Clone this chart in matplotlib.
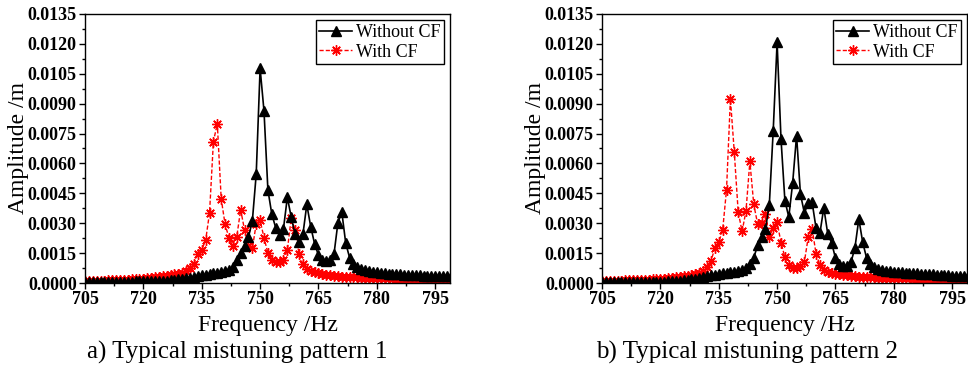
import numpy as np
import matplotlib
matplotlib.use('Agg')
from matplotlib import pyplot as plt
from matplotlib.ticker import MultipleLocator, FormatStrFormatter

plt.rcParams['font.family'] = ['Liberation Serif', 'DejaVu Serif']

# frequency grid (Hz), 1 Hz step
freq = np.arange(705, 800)

# pattern 1
amp1_without = [
    0.00004, 0.00004, 0.00004, 0.00005, 0.00005, 0.00005, 0.00005, 0.00006, 0.00006, 0.00006,
    0.00007, 0.00007, 0.00007, 0.00008, 0.00008, 0.00008, 0.00009, 0.00009, 0.0001, 0.0001,
    0.00011, 0.00012, 0.00014, 0.00016, 0.00018, 0.0002, 0.00023, 0.00026, 0.0003, 0.00034,
    0.00038, 0.00042, 0.00045, 0.00048, 0.0005, 0.00053, 0.00058, 0.00066, 0.00082, 0.00115,
    0.0015, 0.00185, 0.0023, 0.0031, 0.00546, 0.01077, 0.00863, 0.00468, 0.00346, 0.00278,
    0.0024, 0.00272, 0.0043, 0.0033, 0.00244, 0.00205, 0.00244, 0.00394, 0.00283, 0.00197,
    0.00139, 0.00117, 0.0011, 0.00113, 0.00147, 0.00303, 0.00356, 0.002, 0.00127, 0.00097,
    0.00078, 0.00068, 0.00063, 0.00059, 0.00056, 0.00053, 0.00051, 0.00049, 0.00047, 0.00046,
    0.00044, 0.00043, 0.00042, 0.00041, 0.0004, 0.00039, 0.00038, 0.00037, 0.00037, 0.00036,
    0.00035, 0.00035, 0.00034, 0.00034, 0.00033]
amp1_with = [
    0.0001, 0.0001, 0.00011, 0.00011, 0.00012, 0.00012, 0.00013, 0.00014, 0.00014, 0.00015,
    0.00016, 0.00017, 0.00018, 0.00019, 0.0002, 0.00022, 0.00024, 0.00026, 0.00028, 0.00031,
    0.00034, 0.00037, 0.0004, 0.00043, 0.00047, 0.00052, 0.0006, 0.00073, 0.00097, 0.00145,
    0.00167, 0.00214, 0.00351, 0.0071, 0.008, 0.00423, 0.00294, 0.00227, 0.00184, 0.00232,
    0.00368, 0.00266, 0.00187, 0.00174, 0.00296, 0.00314, 0.00228, 0.0015, 0.00117, 0.00105,
    0.00105, 0.00117, 0.00165, 0.00326, 0.00265, 0.00146, 0.00094, 0.00072, 0.0006, 0.00053,
    0.00048, 0.00044, 0.00041, 0.00038, 0.00036, 0.00034, 0.00032, 0.00031, 0.0003, 0.00029,
    0.00028, 0.00027, 0.00026, 0.00025, 0.00025, 0.00024, 0.00024, 0.00023, 0.00023, 0.00022,
    0.00022, 0.00021, 0.00021, 0.00021, 0.0002, 0.0002, 0.0002, 0.00019, 0.00019, 0.00019,
    0.00018, 0.00018, 0.00018, 0.00018, 0.00017]

# pattern 2
amp2_without = [
    0.00003, 0.00003, 0.00003, 0.00003, 0.00004, 0.00004, 0.00004, 0.00004, 0.00005, 0.00005,
    0.00005, 0.00005, 0.00006, 0.00006, 0.00006, 0.00007, 0.00007, 0.00008, 0.00009, 0.0001,
    0.00012, 0.00014, 0.00016, 0.00019, 0.00022, 0.00026, 0.0003, 0.00034, 0.00038, 0.00042,
    0.00046, 0.00049, 0.00051, 0.00053, 0.00056, 0.0006, 0.00066, 0.00075, 0.00097, 0.00127,
    0.00189, 0.0023, 0.0027, 0.00393, 0.00765, 0.01208, 0.00723, 0.00414, 0.00331, 0.00503,
    0.0074, 0.00446, 0.00352, 0.004, 0.00405, 0.00276, 0.0025, 0.00378, 0.00248, 0.00202,
    0.00125, 0.00097, 0.00085, 0.00085, 0.00105, 0.00177, 0.00321, 0.00204, 0.00125, 0.00097,
    0.0008, 0.00072, 0.00066, 0.00062, 0.00059, 0.00057, 0.00055, 0.00053, 0.00051, 0.0005,
    0.00049, 0.00048, 0.00046, 0.00045, 0.00044, 0.00043, 0.00042, 0.0004, 0.00039, 0.00038,
    0.00037, 0.00036, 0.00035, 0.00034, 0.00033]
amp2_with = [
    0.0001, 0.0001, 0.00011, 0.00011, 0.00012, 0.00012, 0.00013, 0.00013, 0.00014, 0.00015,
    0.00015, 0.00016, 0.00017, 0.00018, 0.00019, 0.0002, 0.00022, 0.00024, 0.00026, 0.00028,
    0.0003, 0.00033, 0.00036, 0.0004, 0.00044, 0.0005, 0.0006, 0.0008, 0.0011, 0.00175,
    0.00205, 0.00264, 0.00468, 0.00924, 0.00656, 0.00356, 0.00259, 0.00361, 0.0061, 0.00394,
    0.00296, 0.003, 0.00348, 0.0023, 0.00278, 0.00306, 0.00202, 0.0013, 0.00089, 0.00077,
    0.00077, 0.00084, 0.00105, 0.0023, 0.00273, 0.00147, 0.00089, 0.00064, 0.00055, 0.0005,
    0.00046, 0.00043, 0.0004, 0.00038, 0.00036, 0.00034, 0.00032, 0.00031, 0.0003, 0.00029,
    0.00028, 0.00027, 0.00026, 0.00026, 0.00025, 0.00025, 0.00024, 0.00024, 0.00023, 0.00023,
    0.00022, 0.00022, 0.00021, 0.00021, 0.00021, 0.0002, 0.0002, 0.0002, 0.00019, 0.00019,
    0.00019, 0.00018, 0.00018, 0.00018, 0.00018]

series_labels = ['Without CF', 'With CF']
captions = ['a) Typical mistuning pattern 1', 'b) Typical mistuning pattern 2']

W, H = 968, 367
fig = plt.figure(figsize=(W / 100, H / 100), dpi=100)

# axes boxes in pixels: left, right, top, bottom
boxes = [(85, 450, 14, 283), (602, 967, 14, 283)]
caption_x = [237, 747]
data = [(amp1_without, amp1_with), (amp2_without, amp2_with)]

for (l, r, t, b), (a_wo, a_w), cap, cx in zip(boxes, data, captions, caption_x):
    ax = fig.add_axes([l / W, 1 - b / H, (r - l) / W, (b - t) / H])
    ax.plot(freq, a_wo, color='black', lw=1.2, marker='^', ms=7,
            label=series_labels[0], zorder=3)
    ax.plot(freq, a_w, color='red', lw=1.0, ls='--', dashes=(3, 1.5),
            marker=(8, 2, 0), ms=7.5, mew=1.0, label=series_labels[1], zorder=2)
    ax.set_xlim(705, 798.8)
    ax.set_ylim(0, 0.0135)
    ax.xaxis.set_major_locator(MultipleLocator(15))
    ax.xaxis.set_minor_locator(MultipleLocator(7.5))
    ax.yaxis.set_major_locator(MultipleLocator(0.0015))
    ax.yaxis.set_minor_locator(MultipleLocator(0.00075))
    ax.yaxis.set_major_formatter(FormatStrFormatter('%.4f'))
    ax.tick_params(which='major', direction='out', length=4, width=1,
                   labelsize=13, pad=2)
    ax.tick_params(which='minor', direction='out', length=2, width=1)
    for lab in ax.get_xticklabels() + ax.get_yticklabels():
        lab.set_fontweight('bold')
    for sp in ax.spines.values():
        sp.set_linewidth(1.0)
    ax.set_xlabel('Frequency /Hz', fontsize=17, labelpad=5)
    ax.set_ylabel('Amplitude /m', fontsize=17, labelpad=-1)
    leg = ax.legend(loc='upper right', fontsize=13, frameon=True, fancybox=False,
                    framealpha=1, edgecolor='black', borderpad=0.2,
                    handlelength=1.8, handletextpad=0.2, labelspacing=0.15,
                    borderaxespad=0.35)
    leg.get_frame().set_linewidth(1.0)
    fig.text(cx / W, 1 - 352 / H, cap, ha='center', va='center', fontsize=18)

fig.savefig('out.png', dpi=100)
